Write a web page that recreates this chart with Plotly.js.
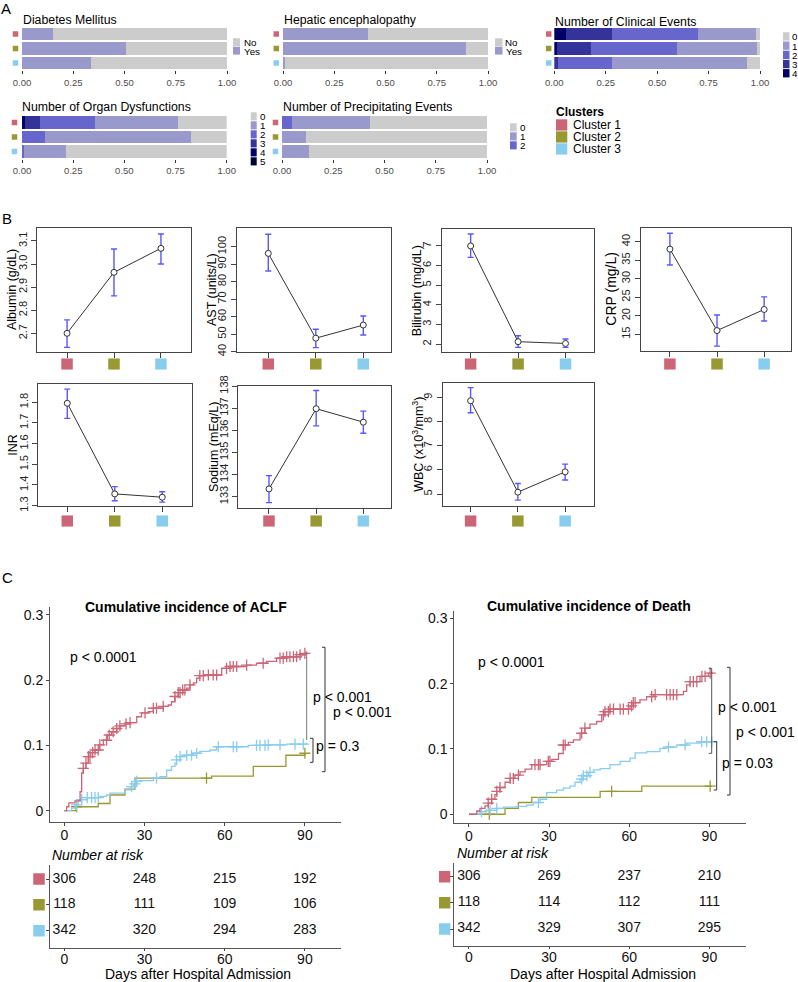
<!DOCTYPE html>
<html><head><meta charset="utf-8">
<script src="https://cdn.plot.ly/plotly-3.0.1.min.js"></script>
<style>html,body{margin:0;padding:0;background:#fff}#fig{width:798px;height:982px}</style>
</head><body><div id="fig"></div>
<script>
// ---------------- DATA ----------------
const clusters = ['Cluster 1','Cluster 2','Cluster 3'];
const clusterColors = ['#CC6677','#999933','#88CCEE'];

// Panel A: proportions per cluster (Cluster 1, 2, 3)
const ynLevels = ['No','Yes'];
const diabetesNo  = [0.850, 0.493, 0.665];
const diabetesYes = [0.150, 0.507, 0.335];
const hepaticNo   = [0.587, 0.109, 0.992];
const hepaticYes  = [0.413, 0.891, 0.008];
const levelColors = ['#CCCCCC','#9999CC','#6666CC','#333399','#000066','#000033'];
const clinicalLevels = ['0','1','2','3','4'];
const clinical0 = [0.020, 0.013, 0.065];
const clinical1 = [0.280, 0.392, 0.655];
const clinical2 = [0.420, 0.417, 0.263];
const clinical3 = [0.225, 0.163, 0.017];
const clinical4 = [0.055, 0.015, 0.000];
const organLevels = ['0','1','2','3','4','5'];
const organ0 = [0.240, 0.172, 0.787];
const organ1 = [0.404, 0.716, 0.203];
const organ2 = [0.266, 0.112, 0.010];
const organ3 = [0.075, 0.000, 0.000];
const organ4 = [0.015, 0.000, 0.000];
const organ5 = [0.000, 0.000, 0.000];
const precipLevels = ['0','1','2'];
const precip0 = [0.571, 0.883, 0.870];
const precip1 = [0.380, 0.117, 0.130];
const precip2 = [0.049, 0.000, 0.000];
const propTicks = [0, 0.25, 0.5, 0.75, 1];
const propTickText = ['0.00','0.25','0.50','0.75','1.00'];

// Panel B: mean and error-bar limits per cluster
const albuminMean = [2.700, 2.964, 3.068];
const albuminLow  = [2.639, 2.862, 3.000];
const albuminHigh = [2.758, 3.065, 3.130];
const albuminTicks = [2.7, 2.8, 2.9, 3.0, 3.1];
const astMean = [96.2, 47.7, 55.2];
const astLow  = [86.1, 42.3, 49.5];
const astHigh = [107.1, 52.8, 60.4];
const astTicks = [40, 50, 60, 70, 80, 90, 100];
const biliMean = [7.00, 2.12, 2.03];
const biliLow  = [6.42, 1.83, 1.83];
const biliHigh = [7.61, 2.42, 2.26];
const biliTicks = [2, 3, 4, 5, 6, 7];
const crpMean = [38.0, 16.0, 21.7];
const crpLow  = [33.7, 11.8, 18.6];
const crpHigh = [42.3, 20.2, 25.1];
const crpTicks = [15, 20, 25, 30, 35, 40];
const inrMean = [1.795, 1.357, 1.341];
const inrLow  = [1.722, 1.324, 1.317];
const inrHigh = [1.863, 1.392, 1.367];
const inrTicks = [1.3, 1.4, 1.5, 1.6, 1.7, 1.8];
const sodiumMean = [133.35, 136.98, 136.37];
const sodiumLow  = [132.73, 136.20, 135.87];
const sodiumHigh = [133.95, 137.80, 136.87];
const sodiumTicks = [133, 134, 135, 136, 137, 138];
const wbcMean = [8.86, 5.08, 5.92];
const wbcLow  = [8.36, 4.75, 5.58];
const wbcHigh = [9.40, 5.44, 6.24];
const wbcTicks = [5, 6, 7, 8, 9];

// Panel C: cumulative incidence step curves (days, cumulative incidence)
const aclfC1Time = [0,0.9,1.7,4.0,5.9,6.5,7.1,8.1,9.0,9.9,11.5,13.1,14.6,16.1,17.7,19.6,20.8,22.7,24.6,27.1,28.9,31.4,33.3,37.0,38.9,40.1,41.4,42.6,44.3,45.8,47.0,48.3,49.5,50.7,52.6,58.9,62.0,68.2,71.9,75.7,79.4,83.2,88.2,90.0,90.6];
const aclfC1Inc  = [0,0.006,0.012,0.015,0.029,0.058,0.065,0.073,0.083,0.089,0.093,0.101,0.108,0.116,0.121,0.126,0.130,0.133,0.135,0.144,0.150,0.152,0.157,0.160,0.162,0.167,0.175,0.181,0.185,0.188,0.193,0.196,0.203,0.207,0.208,0.218,0.221,0.223,0.226,0.229,0.234,0.236,0.239,0.241,0.244];
const aclfC1Cens = [7.1,8.1,9.0,9.6,10.6,11.5,12.7,13.3,15.8,16.8,18.3,19.6,20.8,23.1,24.6,30.2,33.3,34.5,37.0,41.4,42.6,43.3,44.3,45.1,47.0,50.7,52.0,53.9,55.7,57.0,60.7,62.0,63.2,64.5,68.2,74.4,80.7,81.9,83.2,84.4,85.7,86.9,88.2,90.0];
const aclfC2Time = [0,4.4,12.7,17.1,22.7,26.4,55.1,70.7,82.9,90.0];
const aclfC2Inc  = [0,0.006,0.011,0.024,0.033,0.050,0.053,0.068,0.085,0.088];
const aclfC2Cens = [4.6,53.2,90.0];
const aclfC3Time = [0,2.7,4.0,5.2,6.5,8.4,13.3,15.8,17.1,22.7,24.6,25.8,27.1,28.3,33.3,35.8,38.3,40.1,41.4,42.0,43.3,45.1,48.3,50.7,54.5,57.0,68.8,75.7,83.2,90.6];
const aclfC3Inc  = [0,0.004,0.009,0.015,0.017,0.020,0.022,0.024,0.027,0.032,0.037,0.041,0.045,0.046,0.050,0.052,0.062,0.068,0.073,0.078,0.083,0.085,0.088,0.091,0.093,0.098,0.100,0.101,0.102,0.104];
const aclfC3Cens = [4.6,6.5,8.6,10.2,11.5,12.7,25.2,26.4,27.1,34.5,42.0,43.3,45.8,47.6,49.5,57.6,63.2,64.5,71.9,73.2,75.1,76.3,80.7,86.3,89.4];

const deathC1Time = [0,2.9,4.1,6.0,7.2,8.5,9.7,10.4,11.6,13.5,15.4,17.2,19.1,21.0,23.5,29.1,31.0,33.5,35.3,37.2,39.1,41.6,43.4,45.3,47.8,49.7,50.9,52.8,60.3,61.5,64.0,66.5,69.0,80.3,81.5,82.8,86.5,89.6,90.9];
const deathC1Inc  = [0,0.005,0.009,0.013,0.017,0.023,0.030,0.035,0.041,0.049,0.055,0.060,0.065,0.069,0.076,0.081,0.084,0.093,0.106,0.110,0.114,0.124,0.132,0.138,0.142,0.152,0.157,0.161,0.166,0.171,0.175,0.180,0.183,0.188,0.198,0.203,0.211,0.216,0.218];
const deathC1Cens = [7.2,8.5,10.4,11.6,15.4,16.6,18.5,24.7,26.0,26.6,29.7,30.3,35.3,36.0,42.2,43.4,50.3,50.9,52.2,52.8,54.1,56.6,57.8,59.7,60.9,61.5,62.2,68.4,69.7,74.0,75.3,76.5,77.8,82.8,84.0,85.3,87.2,88.4,90.3];
const deathC2Time = [0,13.5,18.5,23.5,49.1,64.7,90.9];
const deathC2Inc  = [0,0.009,0.018,0.026,0.035,0.043,0.043];
const deathC2Cens = [7.6,53.4,90.3];
const deathC3Time = [0,4.1,6.6,10.4,12.9,17.9,21.6,24.1,26.6,29.1,32.8,35.3,37.8,39.7,41.6,42.8,44.7,46.6,49.1,52.8,56.6,60.3,62.2,66.5,71.5,74.0,77.8,81.5,86.5,90.9];
const deathC3Inc  = [0,0.004,0.006,0.009,0.011,0.012,0.014,0.018,0.023,0.033,0.037,0.040,0.043,0.049,0.054,0.059,0.064,0.068,0.070,0.076,0.081,0.086,0.094,0.096,0.101,0.103,0.106,0.109,0.111,0.111];
const deathC3Cens = [4.7,7.9,10.4,26.0,42.2,42.8,44.1,45.3,74.7,80.9,87.1,89.0,90.9];

const riskTimes = [0, 30, 60, 90];
const aclfRisk1 = [306, 248, 215, 192];
const aclfRisk2 = [118, 111, 109, 106];
const aclfRisk3 = [342, 320, 294, 283];
const deathRisk1 = [306, 269, 237, 210];
const deathRisk2 = [118, 114, 112, 111];
const deathRisk3 = [342, 329, 307, 295];
const kmTicks = [0, 30, 60, 90];
const incTicks = [0, 0.1, 0.2, 0.3];
const incTickText = ['0', '0.1', '0.2', '0.3'];

// ---------------- LAYOUT HELPERS ----------------
const W = 798, H = 982;
const FONT = 'Liberation Sans, Arial, Helvetica, sans-serif';
const dx = (a, b) => [a / W, b / W];
const dy = (a, b) => [1 - b / H, 1 - a / H];
const px = x => x / W;
const py = y => 1 - y / H;

const data = [];
const layout = {
  width: W, height: H, margin: {l:0, r:0, t:0, b:0}, autosize: false,
  paper_bgcolor: '#ffffff', plot_bgcolor: 'rgba(0,0,0,0)', showlegend: false,
  barmode: 'stack', bargap: 0.14,
  font: {family: FONT, color: '#000'},
  annotations: [], shapes: []
};
const an = (n) => n === 1 ? '' : String(n);
function axes(n, xo, yo) {
  layout['xaxis' + an(n)] = Object.assign({anchor: 'y' + an(n), showgrid: false, zeroline: false, fixedrange: true}, xo);
  layout['yaxis' + an(n)] = Object.assign({anchor: 'x' + an(n), showgrid: false, zeroline: false, fixedrange: true}, yo);
  return {x: 'x' + an(n), y: 'y' + an(n)};
}
// hidden strip axes used to place category key squares next to a panel
function stripX(n, x0, x1, anchorY) {
  layout['xaxis' + n] = {domain: dx(x0, x1), range: [0, 1], visible: false, fixedrange: true, anchor: anchorY};
  return 'x' + n;
}
function stripY(n, y0, y1, anchorX) {
  layout['yaxis' + n] = {domain: dy(y0, y1), range: [0, 1], visible: false, fixedrange: true, anchor: anchorX};
  return 'y' + n;
}
function text(t, x, y, o) {
  layout.annotations.push(Object.assign({text: t, x: px(x), y: py(y), xref: 'paper', yref: 'paper', borderpad: 0,
    showarrow: false, xanchor: 'left', yanchor: 'middle', font: {size: 14, family: FONT, color: '#000'}}, o || {}));
}
function rect(x0, x1, y0, y1, color) {
  layout.shapes.push({type: 'rect', xref: 'paper', yref: 'paper', x0: px(x0), x1: px(x1), y0: py(y1), y1: py(y0),
    fillcolor: color, line: {width: 0}});
}
function bracket(x, y0, y1, tick, color) {
  layout.shapes.push({type: 'path', xref: 'paper', yref: 'paper',
    path: `M ${px(x - tick)},${py(y0)} L ${px(x)},${py(y0)} L ${px(x)},${py(y1)} L ${px(x - tick)},${py(y1)}`,
    line: {color: color, width: 1}});
}
function keySquares(xa, ya, xs, ys, size) {
  data.push({type: 'scatter', mode: 'markers', x: xs, y: ys, xaxis: xa, yaxis: ya,
    marker: {symbol: 'square', size: size, color: clusterColors, line: {width: 0}}, hoverinfo: 'skip'});
}

// ---------------- PANEL A ----------------
text('A', 0, 9, {font: {size: 15, family: FONT}});
const aPanels = [
  {n:1, s:21, sq:15.5, title:'Diabetes Mellitus', levels: ynLevels, series:[diabetesNo, diabetesYes], box:[22,227,26.75,70.25], tAt:[22,20], key:[233,240,38.3,8.4,7.9], txt:242.5},
  {n:2, s:22, sq:276.3, title:'Hepatic encephalopathy', levels: ynLevels, series:[hepaticNo, hepaticYes], box:[283,488,26.75,70.25], tAt:[283,20], key:[495,502.5,38.3,8.4,7.9], txt:504.5},
  {n:3, s:23, sq:548.7, title:'Number of Clinical Events', levels: clinicalLevels, series:[clinical0, clinical1, clinical2, clinical3, clinical4], box:[554.3,760,26.75,70.25], tAt:[554,22], key:[783,789.5,32.3,9.2,8.3], txt:791},
  {n:4, s:24, sq:14.5, title:'Number of Organ Dysfunctions', levels: organLevels, series:[organ0, organ1, organ2, organ3, organ4, organ5], box:[22,226.7,115.25,158.75], tAt:[21,107], key:[250.7,256.7,112.3,9.0,8.1], txt:258.5},
  {n:5, s:25, sq:275.5, title:'Number of Precipitating Events', levels: precipLevels, series:[precip0, precip1, precip2], box:[282,487,115.25,158.75], tAt:[282,107], key:[510,516.7,123.3,9.0,8.1], txt:518.5}
];
aPanels.forEach(p => {
  const ax = axes(p.n,
    {domain: dx(p.box[0], p.box[1]), range: [0, 1], tickvals: propTicks, ticktext: propTickText,
     ticks: 'outside', ticklen: 3, tickwidth: 1, tickcolor: '#333', showline: false,
     tickfont: {size: 9.5, color: '#4d4d4d', family: FONT}},
    {domain: dy(p.box[2], p.box[3]), type: 'category', categoryarray: clusters, categoryorder: 'array',
     range: [2.5, -0.5], showticklabels: false, ticks: '', showline: false});
  for (let i = p.series.length - 1; i >= 0; i--) {
    data.push({type: 'bar', orientation: 'h', x: p.series[i], y: clusters, xaxis: ax.x, yaxis: ax.y,
      marker: {color: levelColors[i], line: {width: 0}}, hoverinfo: 'skip'});
  }
  const sx = stripX(p.s, p.sq - 4, p.sq + 4, ax.y);
  keySquares(sx, ax.y, clusters.map(() => 0.5), clusters, 5.5);
  text(p.title, p.tAt[0], p.tAt[1], {font: {size: 12.3, family: FONT, color: '#000'}});
  p.levels.forEach((lv, i) => {
    const top = p.key[2] + i * p.key[3];
    rect(p.key[0], p.key[1], top, top + p.key[4], levelColors[i]);
    text(lv, p.txt, top + p.key[4] / 2 + 0.5, {font: {size: 9.8, family: FONT, color: '#000'}});
  });
});
// Clusters legend
text('<b>Clusters</b>', 555.3, 111.7, {font: {size: 12, family: FONT}});
clusters.forEach((c, i) => {
  const top = 119.3 + i * 12;
  rect(556, 567.3, top, top + 11.3, clusterColors[i]);
  text(c, 571.7, top + 6, {font: {size: 12, family: FONT}});
});

// ---------------- PANEL B ----------------
text('B', 1, 218.5, {font: {size: 15, family: FONT}});
const bPanels = [
  {n:6,  label:'Albumin (g/dL)', mean:albuminMean, lo:albuminLow, hi:albuminHigh, ticks:albuminTicks, fmt:'.1f', box:[37,191,228,352], xr:[0.36,3.64], yr:[2.619,3.156], tX:12, row:0, fs:12.5},
  {n:7,  label:'AST (units/L)', mean:astMean, lo:astLow, hi:astHigh, ticks:astTicks, fmt:'d', box:[236.7,390.7,228,352], xr:[0.335,3.577], yr:[39.8,110.7], tX:212, row:0, fs:12.5},
  {n:8,  label:'Bilirubin (mg/dL)', mean:biliMean, lo:biliLow, hi:biliHigh, ticks:biliTicks, fmt:'d', box:[441.7,594,229.3,351.7], xr:[0.39,3.6], yr:[1.61,7.85], tX:416.7, row:0, fs:12.5},
  {n:9,  label:'CRP (mg/L)', mean:crpMean, lo:crpLow, hi:crpHigh, ticks:crpTicks, fmt:'d', box:[640.7,791,227.7,350.7], xr:[0.38,3.57], yr:[10.57,43.78], tX:611.5, row:0, fs:14},
  {n:10, label:'INR', mean:inrMean, lo:inrLow, hi:inrHigh, ticks:inrTicks, fmt:'.1f', box:[38.3,191.7,384,506], xr:[0.39,3.62], yr:[1.2985,1.888], tX:12.7, row:1, fs:12.5},
  {n:11, label:'Sodium (mEq/L)', mean:sodiumMean, lo:sodiumLow, hi:sodiumHigh, ticks:sodiumTicks, fmt:'d', box:[238,390.7,385.7,507.7], xr:[0.343,3.58], yr:[132.5,138.02], tX:213.3, row:1, fs:12.5},
  {n:12, label:'WBC (x10<sup>3</sup>/mm<sup>3</sup>)', mean:wbcMean, lo:wbcLow, hi:wbcHigh, ticks:wbcTicks, fmt:'d', box:[442.7,594,383.3,505.7], xr:[0.41,3.61], yr:[4.52,9.58], tX:418.3, row:1, fs:12.5}
];
const xPos = [1, 2, 3];
const sqRowY = [stripY(26, 358.3, 369.7, 'x6'), stripY(27, 515.3, 526.7, 'x10')];
bPanels.forEach(p => {
  const ax = axes(p.n,
    {domain: dx(p.box[0], p.box[1]), range: p.xr, tickvals: xPos, showticklabels: false, ticks: 'outside', ticklen: 5,
     tickcolor: '#444', showline: true, mirror: true, linecolor: '#444', linewidth: 1},
    {domain: dy(p.box[2], p.box[3]), range: p.yr, tickvals: p.ticks, tickformat: p.fmt, ticks: 'outside', ticklen: 5,
     tickcolor: '#444', tickangle: -90, tickfont: {size: 11, family: FONT, color: '#222'},
     showline: true, mirror: true, linecolor: '#444', linewidth: 1});
  data.push({type: 'scatter', mode: 'lines+markers', x: xPos, y: p.mean, xaxis: ax.x, yaxis: ax.y,
    line: {color: '#333', width: 1}, marker: {symbol: 'circle', size: 6, color: '#fff', line: {color: '#333', width: 1}},
    error_y: {type: 'data', symmetric: false, array: p.hi.map((v, i) => v - p.mean[i]),
      arrayminus: p.mean.map((v, i) => v - p.lo[i]), color: 'rgba(70,70,255,0.9)', thickness: 1.4, width: 3},
    hoverinfo: 'skip'});
  keySquares(ax.x, sqRowY[p.row], xPos, xPos.map(() => 0.5), 11.5);
  text(p.label, p.tX, (p.box[2] + p.box[3]) / 2, {textangle: -90, xanchor: 'center', yanchor: 'middle',
    font: {size: p.fs, family: FONT, color: '#000'}});
});

// ---------------- PANEL C ----------------
text('C', 1, 577, {font: {size: 15, family: FONT}});
function stepAt(ts, vs, t) { let v = vs[0]; for (let i = 0; i < ts.length; i++) if (ts[i] <= t) v = vs[i]; return v; }
const kmPanels = [
  {n:13, tn:15, s:28, title:'Cumulative incidence of ACLF', tAt:[186.3,606.7],
   curves:[[aclfC2Time, aclfC2Inc, aclfC2Cens, 1], [aclfC3Time, aclfC3Inc, aclfC3Cens, 2], [aclfC1Time, aclfC1Inc, aclfC1Cens, 0]],
   risk:[aclfRisk1, aclfRisk2, aclfRisk3],
   box:[50,340.7,606.7,821.7], xr:[-5.35,103.4], yr:[-0.0169,0.3127],
   tbox:[50,340.7,865,948.3], tyr:[3.68,0.458], sqX:39, nar:[50.5,855], days:197.5,
   brackets:[[306.7,651.7,740,0,'#777'],[325,647.3,771.7,3,'#333'],[313,738.3,762.3,3,'#333']],
   ptext:[['p < 0.0001',69,656.7],['p < 0.001',311.7,696.7],['p < 0.001',331.7,711.7],['p = 0.3',315,745.7]]},
  {n:14, tn:16, s:29, title:'Cumulative incidence of Death', tAt:[589,605.7],
   curves:[[deathC2Time, deathC2Inc, deathC2Cens, 1], [deathC3Time, deathC3Inc, deathC3Cens, 2], [deathC1Time, deathC1Inc, deathC1Cens, 0]],
   risk:[deathRisk1, deathRisk2, deathRisk3],
   box:[454.3,745.7,610.7,822.7], xr:[-5.5,103.6], yr:[-0.0129,0.3116],
   tbox:[454.3,745.7,863.3,946], tyr:[3.65,0.488], sqX:444.7, nar:[456,853.3], days:602.5,
   brackets:[[711.7,668.3,753.3,3,'#555'],[730,667.3,795,3,'#333'],[716.7,741.7,790,3,'#333']],
   ptext:[['p < 0.0001',477.3,661.7],['p < 0.001',716.7,707.3],['p < 0.001',735,731.7],['p = 0.03',720.7,763.3]]}
];
kmPanels.forEach(p => {
  const ax = axes(p.n,
    {domain: dx(p.box[0], p.box[1]), range: p.xr, tickvals: kmTicks, ticks: 'outside', ticklen: 3, tickcolor: '#444',
     ticklabelstandoff: -3,
     showline: true, linecolor: '#555', linewidth: 1, tickfont: {size: 14, family: FONT, color: '#111'}},
    {domain: dy(p.box[2], p.box[3]), range: p.yr, tickvals: incTicks, ticktext: incTickText, ticks: 'outside', ticklen: 3,
     tickcolor: '#444', showline: true, linecolor: '#555', linewidth: 1, tickfont: {size: 14, family: FONT, color: '#111'}});
  p.curves.forEach(c => {
    const col = clusterColors[c[3]];
    data.push({type: 'scatter', mode: 'lines', x: c[0], y: c[1], xaxis: ax.x, yaxis: ax.y,
      line: {shape: 'hv', color: col, width: 1.3}, hoverinfo: 'skip'});
    data.push({type: 'scatter', mode: 'markers', x: c[2], y: c[2].map(t => stepAt(c[0], c[1], t)), xaxis: ax.x, yaxis: ax.y,
      marker: {symbol: 'cross-thin-open', size: 8, color: col, line: {color: col, width: 1.3}}, hoverinfo: 'skip'});
  });
  text('<b>' + p.title + '</b>', p.tAt[0], p.tAt[1], {xanchor: 'center', font: {size: 14, family: FONT}});
  p.brackets.forEach(b => bracket(b[0], b[1], b[2], b[3], b[4]));
  p.ptext.forEach(t => text(t[0], t[1], t[2]));
  // risk table
  const tx = axes(p.tn,
    {domain: dx(p.tbox[0], p.tbox[1]), range: p.xr, tickvals: kmTicks, ticks: 'outside', ticklen: 2, tickcolor: '#444',
     ticklabelstandoff: -4,
     showline: true, linecolor: '#555', linewidth: 1, tickfont: {size: 14, family: FONT, color: '#111'}},
    {domain: dy(p.tbox[2], p.tbox[3]), range: p.tyr, tickvals: [1, 2, 3], showticklabels: false, ticks: 'outside', ticklen: 3,
     tickcolor: '#444', showline: true, linecolor: '#555', linewidth: 1});
  p.risk.forEach((r, i) => {
    data.push({type: 'scatter', mode: 'text', x: riskTimes, y: riskTimes.map(() => i + 1), text: r.map(String),
      textposition: 'middle center', textfont: {size: 14, family: FONT, color: '#111'}, xaxis: tx.x, yaxis: tx.y,
      cliponaxis: false, hoverinfo: 'skip'});
  });
  const sx = stripX(p.s, p.sqX - 6, p.sqX + 6, tx.y);
  keySquares(sx, tx.y, clusters.map(() => 0.5), [1, 2, 3], 11.5);
  text('<i>Number at risk</i>', p.nar[0], p.nar[1]);
  text('Days after Hospital Admission', p.days, 973.5, {xanchor: 'center'});
});

Plotly.newPlot('fig', data, layout, {staticPlot: true, displayModeBar: false});
</script>
</body></html>
